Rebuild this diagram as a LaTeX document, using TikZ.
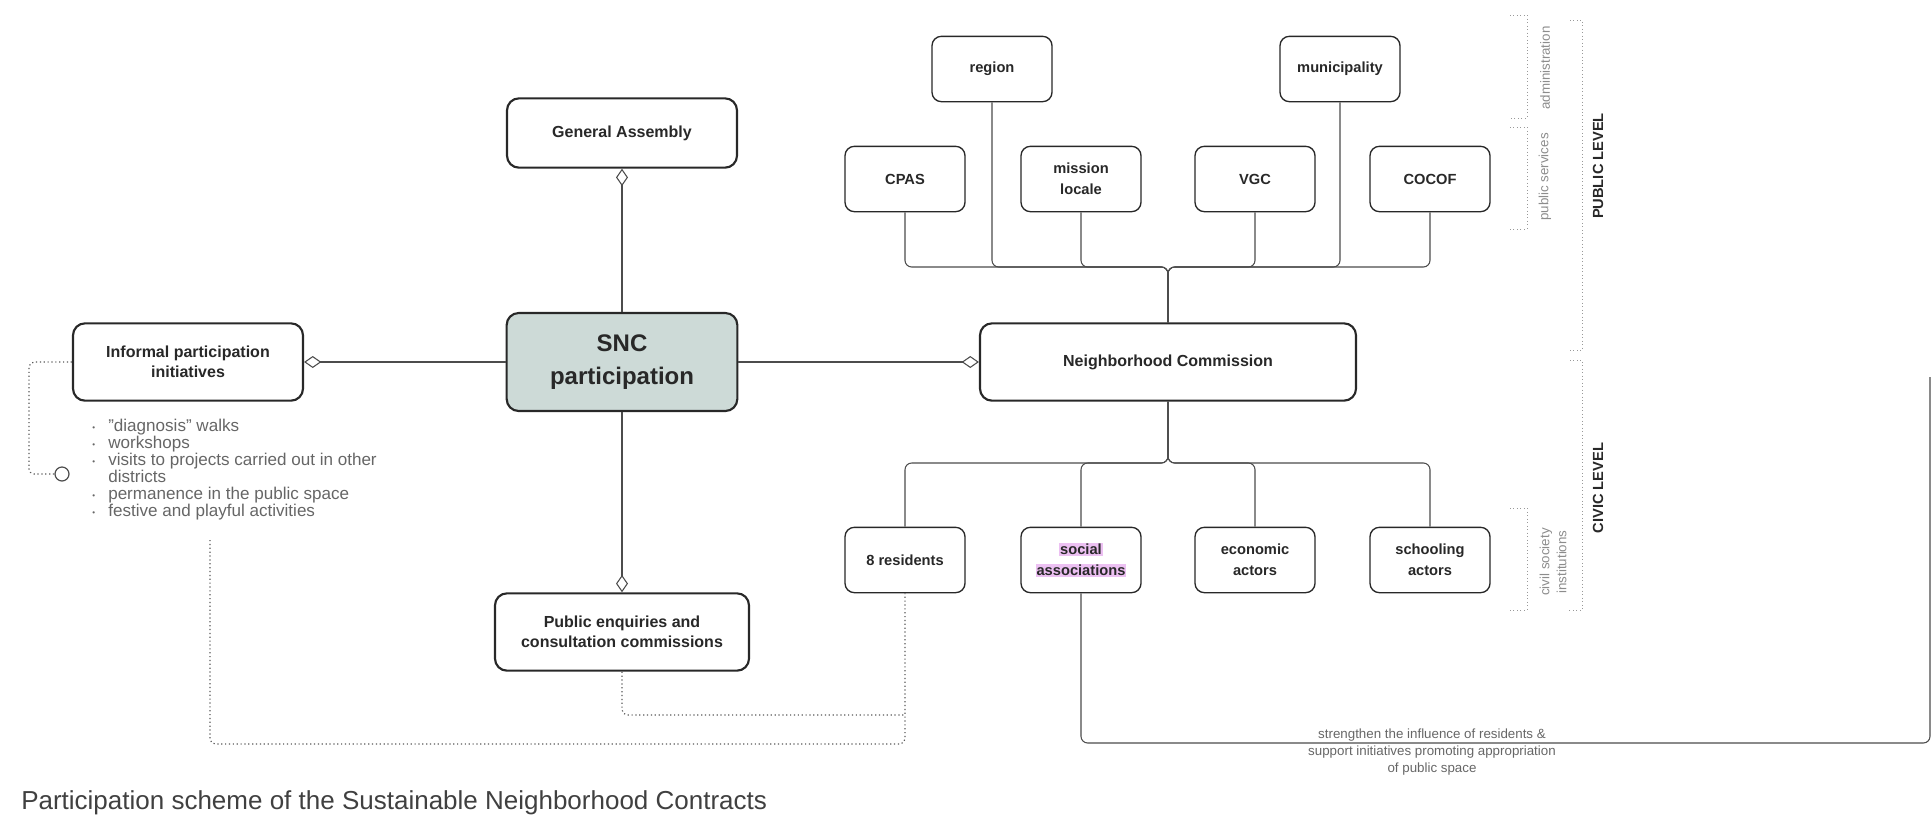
\documentclass[tikz,border=0pt]{standalone}
\usepackage{fontspec}
\setmainfont{Liberation Sans}
\usetikzlibrary{arrows.meta,positioning}
\definecolor{sncgrey}{RGB}{205,218,215}
\definecolor{hlpink}{RGB}{236,192,242}
\definecolor{inkgrey}{RGB}{40,40,40}
\setlength{\fboxsep}{0.6pt}
\newcommand{\blt}{\makebox[12pt][l]{\raisebox{1pt}{\fontsize{6}{6}\selectfont\textbullet}}}
\tikzset{
  mainbox/.style={draw=inkgrey,line width=1.6pt,rounded corners=9pt,fill=white,
                  inner sep=0pt,align=center,font=\bfseries\fontsize{12}{15}\selectfont,text=inkgrey},
  unitbox/.style={draw=inkgrey,line width=1pt,rounded corners=7pt,fill=white,
                  minimum width=90pt,minimum height=49pt,inner sep=0pt,align=center,
                  font=\bfseries\fontsize{11}{16}\selectfont,text=inkgrey},
  link/.style={draw=black!70,line width=0.9pt},
  member/.style={link,-{Diamond[open,length=13pt,width=9pt,line width=0.8pt]}},
  bus/.style={draw=black!70,line width=0.8pt,rounded corners=5pt},
  dotlink/.style={draw=black!65,line width=0.9pt,dotted,rounded corners=4pt},
  bracket/.style={draw=black!40,line width=0.6pt,dotted},
  sidelabel/.style={font=\fontsize{10}{12.75}\selectfont,text=black!45,rotate=90,align=center},
  levellabel/.style={font=\bfseries\fontsize{11}{13}\selectfont,text=inkgrey,rotate=90},
  acttext/.style={font=\fontsize{12.8}{12.75}\selectfont,text=black!60,align=left,inner sep=0pt},
  note/.style={font=\fontsize{10}{12.75}\selectfont,text=black!60,align=center},
}

\begin{document}
\begin{tikzpicture}[x=0.75pt,y=-0.75pt]
  \useasboundingbox (0,0) rectangle (1932,815);

  \node[mainbox,fill=sncgrey,minimum width=173pt,minimum height=73.5pt,
        font=\bfseries\fontsize{18}{24.75}\selectfont] (snc) at (622,362) {SNC\\participation};
  \node[mainbox,minimum width=172.5pt,minimum height=52pt] (ga) at (622,133) {General Assembly};
  \node[mainbox,minimum width=172.5pt,minimum height=58pt] (inf) at (188,362)
    {Informal participation\\initiatives};
  \node[mainbox,minimum width=190.5pt,minimum height=58pt] (pe) at (622,632)
    {Public enquiries and\\consultation commissions};
  \node[mainbox,minimum width=282pt,minimum height=58pt] (nc) at (1168,362) {Neighborhood Commission};

  \node[unitbox] (region) at (992,69) {region};
  \node[unitbox] (muni) at (1340,69) {municipality};
  \node[unitbox] (cpas) at (905,179) {CPAS};
  \node[unitbox] (mission) at (1081,179) {mission\\locale};
  \node[unitbox] (vgc) at (1255,179) {VGC};
  \node[unitbox] (cocof) at (1430,179) {COCOF};

  \node[unitbox] (res) at (905,560) {8 residents};
  \node[unitbox] (soc) at (1081,560) {\colorbox{hlpink}{social}\\\colorbox{hlpink}{associations}};
  \node[unitbox] (eco) at (1255,560) {economic\\actors};
  \node[unitbox] (school) at (1430,560) {schooling\\actors};

  \draw[member] (snc) -- (ga);
  \draw[member] (snc) -- (inf);
  \draw[member] (snc) -- (nc);
  \draw[member] (snc) -- (pe);

  \coordinate (topjoin) at (1168,267);
  \coordinate (lowjoin) at (1168,463);
  \foreach \unit in {cpas,region,mission,vgc,muni,cocof}
    \draw[bus] (\unit.south) |- (topjoin) -- (nc.north);
  \foreach \unit in {res,soc,eco,school}
    \draw[bus] (nc.south) -- (lowjoin) -| (\unit.north);

  \coordinate (socturn) at (1930,743);
  \coordinate (rightedge) at (1930,377);
  \draw[bus] (soc.south) |- (socturn) -- (rightedge);

  \node[acttext,anchor=north west] (acts) at (92,419)
    {\blt"diagnosis" walks\\
     \blt workshops\\
     \blt visits to projects carried out in other\\
     \hspace*{12pt}districts\\
     \blt permanence in the public space\\
     \blt festive and playful activities};

  \node[draw=black!70,line width=0.9pt,circle,minimum size=10.5pt,inner sep=0pt] (knot) at (62,474) {};
  \coordinate (actsend) at (210,540);
  \coordinate (lowloop) at (905,744);
  \coordinate (midloop) at (905,715);
  \draw[dotlink] (inf.west) -- ++(-43,0) |- (knot.west);
  \draw[dotlink] (actsend) |- (lowloop) -- (res.south);
  \draw[dotlink] (pe.south) |- (midloop);

  \draw[bracket] (1510,15) -- (1527,15) -- (1527,118) -- (1510,118);
  \draw[bracket] (1510,127) -- (1527,127) -- (1527,229) -- (1508,229);
  \draw[bracket] (1510,508) -- (1527,508) -- (1527,610) -- (1508,610);
  \draw[bracket] (1570,20) -- (1582,20) -- (1582,350) -- (1570,350);
  \draw[bracket] (1570,360) -- (1582,360) -- (1582,610) -- (1568,610);

  \node[sidelabel] (adminlab) at (1545,68) {administration};
  \node[sidelabel] (servlab) at (1545,177) {public services};
  \node[sidelabel] (civsoclab) at (1553,562) {civil society\\institutions};
  \node[levellabel] (publab) at (1598,166) {PUBLIC LEVEL};
  \node[levellabel] (civlab) at (1598,488) {CIVIC LEVEL};

  \node[note] (aimnote) at (1432,752)
    {strengthen the influence of residents \&\\support initiatives promoting appropriation\\of public space};

  \node[anchor=west,font=\fontsize{19.5}{23}\selectfont,text=black!75,inner sep=0pt] (caption) at (21,803)
    {Participation scheme of the Sustainable Neighborhood Contracts};
\end{tikzpicture}
\end{document}
